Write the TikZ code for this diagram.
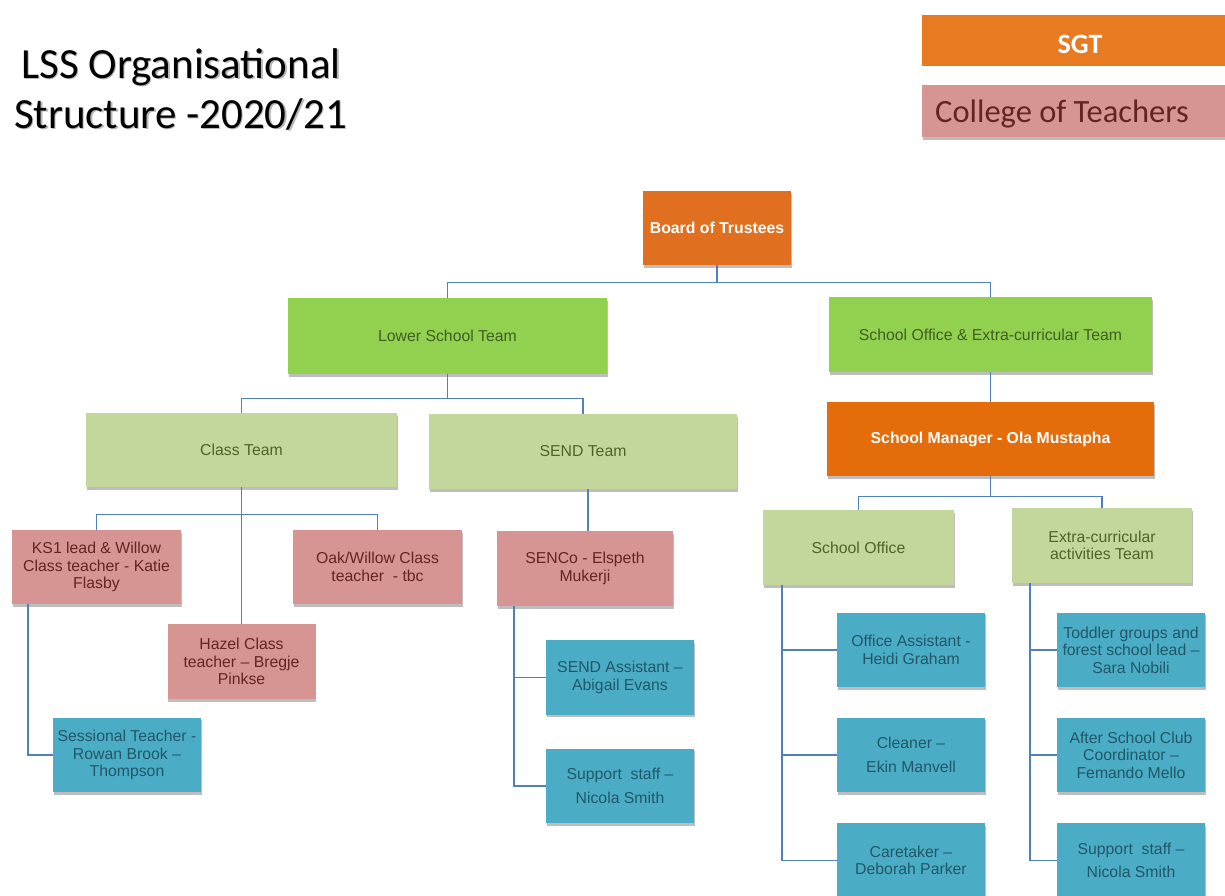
\documentclass[tikz,border=0pt]{standalone}
\usepackage{fontspec}
\setmainfont{Liberation Sans}
\newfontfamily\calibri{Carlito}
\usetikzlibrary{shadows}
\definecolor{orgB}{HTML}{E07020}
\definecolor{orgM}{HTML}{E46C0A}
\definecolor{sgtC}{HTML}{E87A22}
\definecolor{grnB}{HTML}{92D050}
\definecolor{grnL}{HTML}{C3D69B}
\definecolor{pinkC}{HTML}{D69593}
\definecolor{tealC}{HTML}{4BACC6}
\definecolor{lineC}{HTML}{4F81BD}
\definecolor{txG}{HTML}{4F6228}
\definecolor{txGB}{HTML}{3F5F22}
\definecolor{txP}{HTML}{632523}
\definecolor{txT}{HTML}{215867}
\tikzset{
  shd/.style={drop shadow={shadow xshift=0.8pt,shadow yshift=-2.6pt,fill=black!30,opacity=0.85}},
  bx/.style={rectangle,inner sep=0pt,align=center,shd,
    font=\fontsize{15.8}{17.5}\selectfont},
  orangebox/.style={bx,fill=orgB,text=white,font=\bfseries\fontsize{15.8}{17.5}\selectfont},
  greenbox/.style={bx,fill=grnB,text=txGB},
  lgreenbox/.style={bx,fill=grnL,text=txG},
  pinkbox/.style={bx,fill=pinkC,text=txP},
  tealbox/.style={bx,fill=tealC,text=txT,minimum width=148pt,minimum height=74.5pt},
  conn/.style={draw=lineC,line width=1.4pt},
  titletext/.style={font=\calibri\fontsize{43}{50}\selectfont,anchor=base,inner sep=0pt},
}
\begin{document}
\begin{tikzpicture}[x=1pt,y=-1pt]
\clip (0,0) rectangle (1225,895);
\fill[white] (0,0) rectangle (1225,895);

% title
\node[titletext,text=black!28] (t1s) at (182.4,79.6) {LSS Organisational};
\node[titletext] (t1) at (181,78) {LSS Organisational};
\node[titletext,text=black!28] (t2s) at (181.9,129.6) {Structure -2020/21};
\node[titletext] (t2) at (180.5,128) {Structure -2020/21};

% legend
\node[rectangle,fill=sgtC,minimum width=316pt,minimum height=51pt,inner sep=0pt] (sgt) at (1080,40.5) {};
\node[anchor=base,inner sep=0pt,text=white,font=\calibri\bfseries\fontsize{28}{30}\selectfont] (sgtt) at (1080,53) {SGT};
\node[rectangle,fill=pinkC,minimum width=316pt,minimum height=52pt,inner sep=0pt,shd] (cot) at (1080,111) {};
\node[anchor=base west,inner sep=0pt,text=txP,font=\calibri\fontsize{32.5}{34}\selectfont] (cott) at (935,122) {College of Teachers};

% boxes
\node[orangebox,minimum width=148pt,minimum height=74pt] (board) at (717,228) {Board of Trustees};
\node[greenbox,minimum width=319pt,minimum height=76pt] (lst) at (447.5,336) {Lower School Team};
\node[greenbox,minimum width=323pt,minimum height=75pt] (soet) at (990.5,334.5) {School Office \& Extra-curricular Team};
\node[lgreenbox,minimum width=311pt,minimum height=74pt] (class) at (241.5,450) {Class Team};
\node[lgreenbox,minimum width=308pt,minimum height=75pt] (send) at (583,451.5) {SEND Team};
\node[orangebox,fill=orgM,minimum width=327pt,minimum height=74pt] (sm) at (990.5,439) {School Manager - Ola Mustapha};
\node[lgreenbox,minimum width=191pt,minimum height=75pt] (office) at (858.5,547.5) {School Office};
\node[lgreenbox,minimum width=180pt,minimum height=75pt] (extra) at (1102,545.5) {Extra-curricular\\activities Team};

\node[pinkbox,minimum width=169pt,minimum height=74pt] (ks1) at (96.5,567) {KS1 lead \& Willow\\Class teacher - Katie\\Flasby};
\node[pinkbox,minimum width=169pt,minimum height=74pt] (oak) at (377.5,567) {Oak/Willow Class\\teacher\ \ - tbc};
\node[pinkbox,minimum width=148pt,minimum height=75pt] (hazel) at (241.5,661.5) {Hazel Class\\teacher – Bregje\\Pinkse};
\node[pinkbox,minimum width=176pt,minimum height=75pt] (senco) at (585,568.5) {SENCo - Elspeth\\Mukerji};

\node[tealbox] (sess) at (127,755) {Sessional Teacher -\\Rowan Brook –\\Thompson};
\node[tealbox] (sa) at (620,677.5) {SEND Assistant –\\Abigail Evans};
\node[tealbox] (ss1) at (620,786) {Support\ \ staff –\\[6pt]Nicola Smith};
\node[tealbox] (oa) at (911,650) {Office Assistant -\\Heidi Graham};
\node[tealbox] (clean) at (911,755) {Cleaner –\\[6pt]Ekin Manvell};
\node[tealbox] (care) at (911,860.5) {Caretaker –\\Deborah Parker};
\node[tealbox] (tod) at (1131,650) {Toddler groups and\\forest school lead –\\Sara Nobili};
\node[tealbox] (asc) at (1131,755) {After School Club\\Coordinator –\\Femando Mello};
\node[tealbox] (ss2) at (1131,860.5) {Support\ \ staff –\\[6pt]Nicola Smith};

% connectors
\draw[conn] (board.south) -- ++(0,17) coordinate (bj) -| (lst.north);
\draw[conn] (bj) -| (soet.north);
\draw[conn] (lst.south) -- ++(0,24) coordinate (lj) -| (class.north);
\draw[conn] (lj) -| (send.north);
\draw[conn] (class.south) -- (hazel.north);
\path (class.south) ++(0,27) coordinate (cj);
\draw[conn] (ks1.north) |- (cj) -| (oak.north);
\draw[conn] ([xshift=3pt]senco.north) -- ([xshift=3pt]senco.north |- send.south);
\draw[conn] ([xshift=16pt]ks1.south west) |- (sess.west);
\draw[conn] ([xshift=17pt]senco.south west) |- (sa.west);
\draw[conn] ([xshift=17pt]senco.south west) |- (ss1.west);
\draw[conn] (soet.south) -- (sm.north);
\draw[conn] (sm.south) -- ++(0,20) coordinate (mj) -| (office.north);
\draw[conn] (mj) -| (extra.north);
\draw[conn] ([xshift=19pt]office.south west) |- (oa.west);
\draw[conn] ([xshift=19pt]office.south west) |- (clean.west);
\draw[conn] ([xshift=19pt]office.south west) |- (care.west);
\draw[conn] ([xshift=18pt]extra.south west) |- (tod.west);
\draw[conn] ([xshift=18pt]extra.south west) |- (asc.west);
\draw[conn] ([xshift=18pt]extra.south west) |- (ss2.west);
\end{tikzpicture}
\end{document}
